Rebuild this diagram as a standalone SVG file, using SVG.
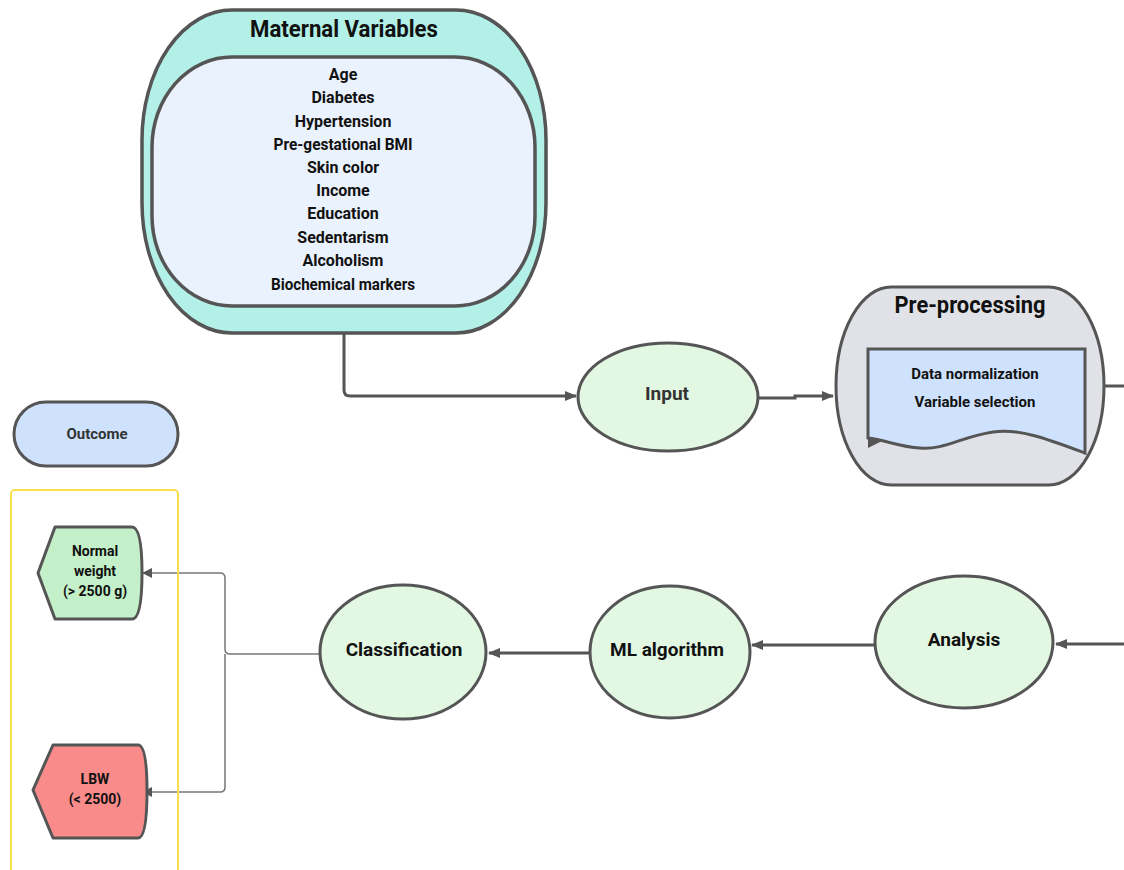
<svg xmlns="http://www.w3.org/2000/svg" width="1124" height="870" viewBox="0 0 1124 870">
<defs>
<marker id="ah" viewBox="0 0 12 10" refX="11" refY="5" markerWidth="12" markerHeight="10" markerUnits="userSpaceOnUse" orient="auto">
<path d="M0,0 L12,5 L0,10 Z" fill="#555"/>
</marker>
<marker id="ahs" viewBox="0 0 10 10" refX="9" refY="5" markerWidth="10" markerHeight="10" markerUnits="userSpaceOnUse" orient="auto">
<path d="M0,0 L10,5 L0,10 Z" fill="#555"/>
</marker>
</defs>
<style>
.t{font-family:"Liberation Sans Narrow","Roboto","Liberation Sans",sans-serif;font-weight:bold;fill:#111;text-anchor:middle;dominant-baseline:central}
.ell{fill:#e2f8e2;stroke:#555;stroke-width:3}
.con{fill:none;stroke:#555;stroke-width:3}
.thin{fill:none;stroke:#777;stroke-width:1.5}
</style>
<rect width="1124" height="870" fill="#fff"/>
<g id="connectors">
<path class="con" d="M344,333 V390 Q344,396 350,396 H576" marker-end="url(#ah)"/>
<path class="con" d="M758,398 H795 V396 H833" marker-end="url(#ah)"/>
<path class="con" d="M1104,386 H1124"/>
<path class="con" d="M1124,644 H1056" marker-end="url(#ah)"/>
<path class="con" d="M876,645 H752" marker-end="url(#ah)"/>
<path class="con" d="M590,653 H489" marker-end="url(#ah)"/>
<path class="thin" d="M320,654 H230 Q225,654 225,649 V578 Q225,573 220,573 H143" marker-end="url(#ahs)"/>
<path class="thin" d="M225,654 V787 Q225,792 220,792 H143" marker-end="url(#ahs)"/>
</g>
<g id="maternal">
<path d="M232,10 H456 A90,130 0 0 1 546,140 V203 A90,130 0 0 1 456,333 H232 A90,130 0 0 1 142,203 V140 A90,130 0 0 1 232,10 Z" fill="#b3f0e8" stroke="#555" stroke-width="3.5"/>
<path d="M232,57 H455 A80,90 0 0 1 535,147 V216 A80,90 0 0 1 455,306 H232 A80,90 0 0 1 152,216 V147 A80,90 0 0 1 232,57 Z" fill="#eaf2fd" stroke="#555" stroke-width="3.5"/>
<text class="t" x="344" y="29" font-size="23" textLength="188" lengthAdjust="spacingAndGlyphs">Maternal Variables</text>
<g font-size="16">
<text class="t" x="343" y="74">Age</text>
<text class="t" x="343" y="97">Diabetes</text>
<text class="t" x="343" y="121">Hypertension</text>
<text class="t" x="343" y="144" textLength="139" lengthAdjust="spacingAndGlyphs">Pre-gestational BMI</text>
<text class="t" x="343" y="167">Skin color</text>
<text class="t" x="343" y="190">Income</text>
<text class="t" x="343" y="213">Education</text>
<text class="t" x="343" y="237">Sedentarism</text>
<text class="t" x="343" y="260">Alcoholism</text>
<text class="t" x="343" y="284" textLength="144" lengthAdjust="spacingAndGlyphs">Biochemical markers</text>
</g>
</g>
<g id="input">
<ellipse class="ell" cx="668" cy="397" rx="90" ry="54"/>
<text class="t" x="667" y="393" font-size="19" style="fill:#333">Input</text>
</g>
<g id="preprocessing">
<path d="M891,287 H1049 A55,99 0 0 1 1104,386 A55,99 0 0 1 1049,485 H891 A55,99 0 0 1 836,386 A55,99 0 0 1 891,287 Z" fill="#e0e2e8" stroke="#555" stroke-width="3"/>
<text class="t" x="970" y="305" font-size="23" textLength="151" lengthAdjust="spacingAndGlyphs">Pre-processing</text>
<path d="M868,349 H1085 V453 C1050,440 1020,428 993,432 C960,437 945,450 920,448 C900,447 885,440 868,438 Z" fill="#cfe2fd" stroke="#555" stroke-width="3"/>
<path d="M868,437 L882,441 L868,448 Z" fill="#555"/>
<text class="t" x="975" y="374" font-size="15">Data normalization</text>
<text class="t" x="975" y="402" font-size="15">Variable selection</text>
</g>
<g id="analysis">
<ellipse class="ell" cx="964" cy="642" rx="89" ry="66"/>
<text class="t" x="964" y="639" font-size="19">Analysis</text>
</g>
<g id="ml">
<ellipse class="ell" cx="670" cy="652" rx="80" ry="66"/>
<text class="t" x="667" y="649" font-size="19">ML algorithm</text>
</g>
<g id="classification">
<ellipse class="ell" cx="403" cy="652" rx="83" ry="67"/>
<text class="t" x="404" y="649" font-size="19">Classification</text>
</g>
<g id="outcome">
<rect x="14" y="402" width="164" height="64" rx="32" fill="#cfe2fd" stroke="#555" stroke-width="3"/>
<text class="t" x="97" y="434" font-size="15" style="fill:#333">Outcome</text>
</g>
<g id="outcomebox">
<rect x="11" y="490" width="167" height="400" rx="4" fill="none" stroke="#f7df4e" stroke-width="2"/>
</g>
<g id="normal">
<path d="M55,527 H132 Q142,527 142,573 Q142,619 132,619 H55 L38,573 Z" fill="#c3f0c8" stroke="#555" stroke-width="3" stroke-linejoin="round"/>
<text class="t" x="95" y="551" font-size="14">Normal</text>
<text class="t" x="95" y="571" font-size="14">weight</text>
<text class="t" x="95" y="591" font-size="14">(&gt; 2500 g)</text>
</g>
<g id="lbw">
<path d="M53,745 H138 Q147,745 147,791 Q147,838 138,838 H53 L33,790 Z" fill="#f98b8b" stroke="#555" stroke-width="3" stroke-linejoin="round"/>
<text class="t" x="95" y="779" font-size="14">LBW</text>
<text class="t" x="95" y="799" font-size="14">(&lt; 2500)</text>
</g>
</svg>
